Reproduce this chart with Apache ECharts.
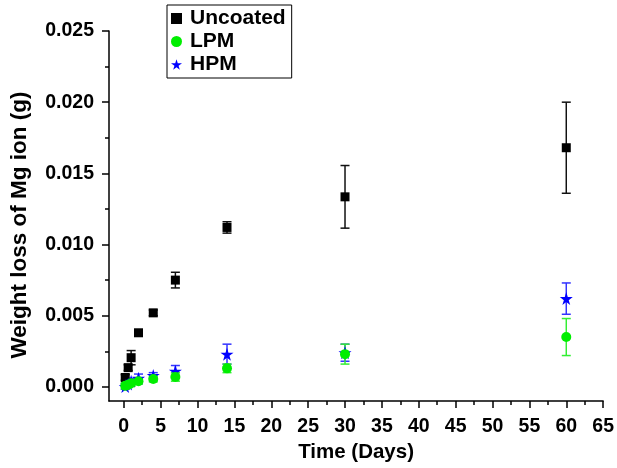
<!DOCTYPE html>
<html>
<head>
<meta charset="utf-8">
<script src="https://cdn.jsdelivr.net/npm/echarts@6/dist/echarts.min.js"></script>
<style>
  html, body { margin: 0; padding: 0; background: #fff; }
  #main { width: 617px; height: 468px; }
</style>
</head>
<body>
<div id="main"></div>
<script>
// data
var days = [0.2, 0.6, 1, 2, 4, 7, 14, 30, 60];
var uncoated = [0.00066, 0.00135, 0.00205, 0.0038, 0.0052, 0.0075, 0.0112, 0.01335, 0.0168];
var uncoatedErr = [0.0002, 0.0002, 0.0005, 0.0001, 0.0002, 0.00055, 0.0004, 0.0022, 0.0032];
var lpm = [0.00007, 0.00015, 0.00025, 0.0004, 0.00055, 0.0007, 0.0013, 0.0023, 0.0035];
var lpmErr = [0.0002, 0.0002, 0.0002, 0.0002, 0.0002, 0.0003, 0.0003, 0.0007, 0.0013];
var hpm = [0.00003, 0.0002, 0.0004, 0.0006, 0.0008, 0.0011, 0.0023, 0.0024, 0.0062];
var hpmErr = [0.0002, 0.0002, 0.0002, 0.0003, 0.0002, 0.0004, 0.0007, 0.0006, 0.0011];

var xTicks = [0, 5, 10, 15, 20, 25, 30, 35, 40, 45, 50, 55, 60, 65];
var xMinor = [2.5, 7.5, 12.5, 17.5, 22.5, 27.5, 32.5, 37.5, 42.5, 47.5, 52.5, 57.5, 62.5];
var yTicks = [0, 0.005, 0.01, 0.015, 0.02, 0.025];
var yMinor = [0.0025, 0.0075, 0.0125, 0.0175, 0.0225];

var font = 'Liberation Sans, Arial, sans-serif';
var starPath = 'path://M50,0 L61,35 L98,35 L68,57 L79,91 L50,70 L21,91 L32,57 L2,35 L39,35 Z';

function pts(ys) {
  return days.map(function (d, i) { return [d, ys[i]]; });
}
function errs(ys, es) {
  return days.map(function (d, i) { return [d, ys[i] - es[i], ys[i] + es[i]]; });
}
function errBar(color) {
  return function (params, api) {
    var top = api.coord([api.value(0), api.value(2)]);
    var bot = api.coord([api.value(0), api.value(1)]);
    var w = 4.5;
    var st = { stroke: color, lineWidth: 1.5 };
    return {
      type: 'group',
      children: [
        { type: 'line', shape: { x1: top[0], y1: top[1], x2: bot[0], y2: bot[1] }, style: st },
        { type: 'line', shape: { x1: top[0] - w, y1: top[1], x2: top[0] + w, y2: top[1] }, style: st },
        { type: 'line', shape: { x1: bot[0] - w, y1: bot[1], x2: bot[0] + w, y2: bot[1] }, style: st }
      ]
    };
  };
}

var myChart = echarts.init(document.getElementById('main'), null, { renderer: 'canvas' });

var option = {
  animation: false,
  grid: { left: 109, right: 12, top: 31, bottom: 66 },
  legend: {
    left: 167, top: 5,
    orient: 'vertical',
    selectedMode: false,
    data: [
      { name: 'Uncoated', itemStyle: { color: '#000' } },
      { name: 'LPM' },
      { name: 'HPM', icon: starPath }
    ],
    itemWidth: 11, itemHeight: 11,
    itemGap: 2,
    padding: [3, 6, 3, 4],
    borderColor: '#000', borderWidth: 1,
    textStyle: { fontFamily: font, fontWeight: 'bold', fontSize: 21, color: '#000', padding: [0, 0, 0, 3] }
  },
  xAxis: [
    {
      type: 'value', min: -2, max: 65,
      name: 'Time (Days)', nameLocation: 'middle', nameGap: 39,
      nameTextStyle: { fontFamily: font, fontWeight: 'bold', fontSize: 20.5, color: '#000' },
      axisLine: { onZero: false, lineStyle: { color: '#000', width: 1.5 } },
      axisTick: { customValues: xTicks, length: 7, inside: false, lineStyle: { color: '#000', width: 1.5 } },
      axisLabel: { customValues: xTicks, margin: 16, fontFamily: font, fontWeight: 'bold', fontSize: 19.5, color: '#000' },
      splitLine: { show: false }
    },
    {
      type: 'value', min: -2, max: 65, position: 'bottom',
      axisLine: { show: false, onZero: false },
      axisTick: { customValues: xMinor, length: 4, lineStyle: { color: '#000', width: 1.5 } },
      axisLabel: { show: false },
      splitLine: { show: false }
    }
  ],
  yAxis: [
    {
      type: 'value', min: -0.001, max: 0.025,
      name: 'Weight loss of Mg ion (g)', nameLocation: 'middle', nameGap: 78,
      nameTextStyle: { fontFamily: font, fontWeight: 'bold', fontSize: 22.5, color: '#000', padding: [0, 18, 0, 0] },
      axisLine: { onZero: false, lineStyle: { color: '#000', width: 1.5 } },
      axisTick: { customValues: yTicks, length: 7, lineStyle: { color: '#000', width: 1.5 } },
      axisLabel: {
        customValues: yTicks, margin: 15, fontFamily: font, fontWeight: 'bold', fontSize: 19.5, color: '#000',
        formatter: function (v) { return v.toFixed(3); }
      },
      splitLine: { show: false }
    },
    {
      type: 'value', min: -0.001, max: 0.025, position: 'left',
      axisLine: { show: false, onZero: false },
      axisTick: { customValues: yMinor, length: 4, lineStyle: { color: '#000', width: 1.5 } },
      axisLabel: { show: false },
      splitLine: { show: false }
    }
  ],
  series: [
    { type: 'custom', name: 'errU', renderItem: errBar('#111'), data: errs(uncoated, uncoatedErr), z: 2 },
    { type: 'scatter', name: 'Uncoated', symbol: 'rect', symbolSize: 9, itemStyle: { color: '#000', opacity: 1 }, data: pts(uncoated), z: 3 },
    { type: 'custom', name: 'errH', renderItem: errBar('#3333ff'), data: errs(hpm, hpmErr), z: 2 },
    { type: 'scatter', name: 'HPM', symbol: starPath, symbolSize: 13, itemStyle: { color: '#0000ff', opacity: 1 }, data: pts(hpm), z: 3 },
    { type: 'custom', name: 'errL', renderItem: errBar('#33ee33'), data: errs(lpm, lpmErr), z: 2 },
    { type: 'scatter', name: 'LPM', symbol: 'circle', symbolSize: 10, itemStyle: { color: '#00ee00', opacity: 1 }, data: pts(lpm), z: 3 }
  ]
};
myChart.setOption(option);
</script>
</body>
</html>
